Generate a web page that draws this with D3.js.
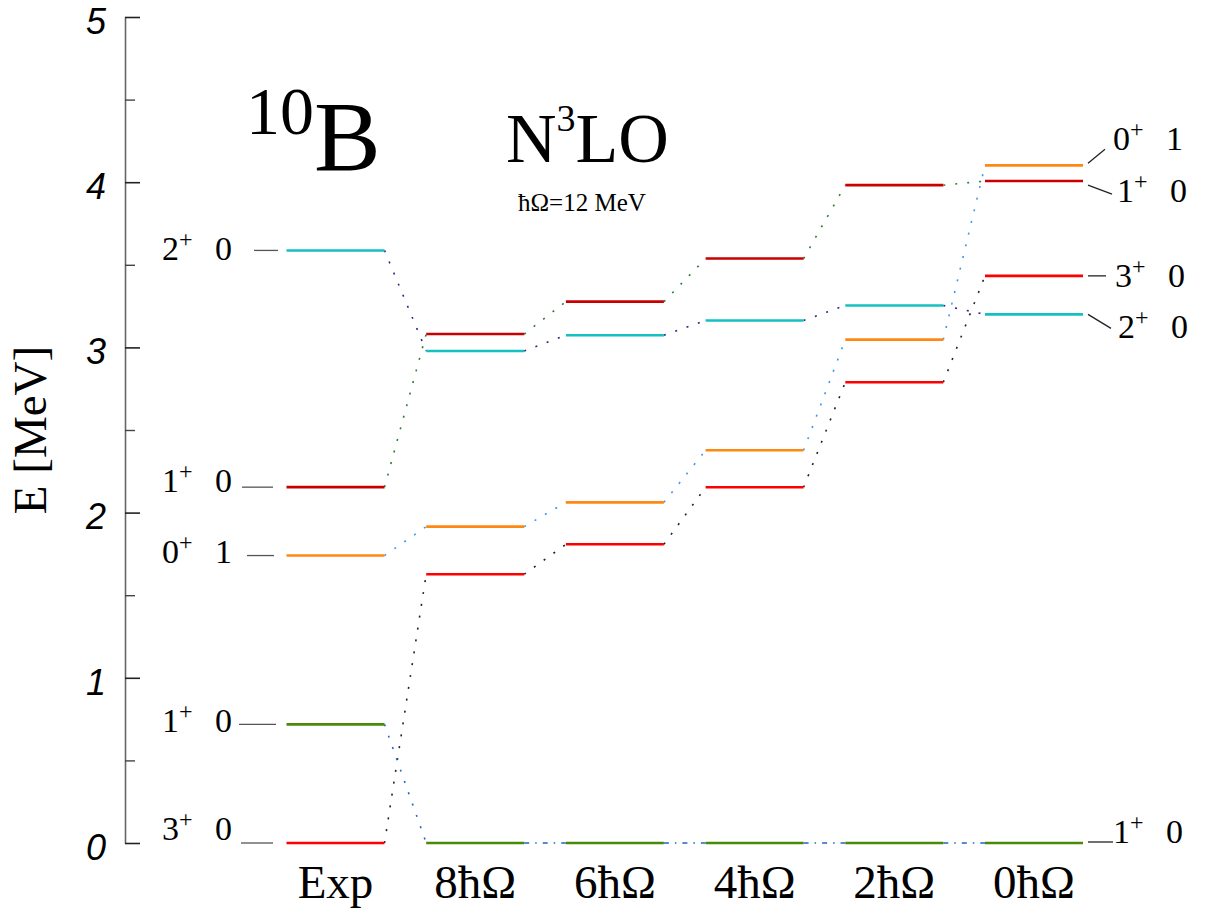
<!DOCTYPE html>
<html>
<head>
<meta charset="utf-8">
<script src="https://cdn.jsdelivr.net/npm/d3@7"></script>
<style>
  html, body { margin: 0; padding: 0; background: #fff; }
  svg { display: block; }
</style>
</head>
<body>
<svg id="chart" width="1211" height="913"></svg>
<script>
// Calculation columns (experiment, then Nmax truncations)
const columns = ["Exp", "8ħΩ", "6ħΩ", "4ħΩ", "2ħΩ", "0ħΩ"];
const yTicks = [0, 1, 2, 3, 4, 5];
const yMinorTicks = [0.5, 1.5, 2.5, 3.5, 4.5];

// Excitation energies [MeV] of each state, one value per column
const state3p0 = [0.000, 1.627, 1.808, 2.153, 2.789, 3.433];   // 3+ 0
const state1p0a = [0.718, 0.000, 0.000, 0.000, 0.000, 0.000];  // 1+ 0 (lowest)
const state0p1 = [1.740, 1.915, 2.062, 2.377, 3.047, 4.102];   // 0+ 1
const state1p0b = [2.154, 3.081, 3.277, 3.538, 3.982, 4.007];  // 1+ 0 (second)
const state2p0 = [3.587, 2.978, 3.074, 3.163, 3.254, 3.200];   // 2+ 0

// Spin-parity and isospin of each state
const stateJ = ["3", "1", "0", "1", "2"];
const stateT = ["0", "0", "1", "0", "0"];

const states = [
  { id: "s3p0",  values: state3p0,  J: stateJ[0], T: stateT[0], color: "#ff0000", link: "#222222" },
  { id: "s1p0a", values: state1p0a, J: stateJ[1], T: stateT[1], color: "#4a8a08", link: "#1f66c4" },
  { id: "s0p1",  values: state0p1,  J: stateJ[2], T: stateT[2], color: "#ff8810", link: "#3a98f0" },
  { id: "s1p0b", values: state1p0b, J: stateJ[3], T: stateT[3], color: "#c80000", link: "#2f7d2f" },
  { id: "s2p0",  values: state2p0,  J: stateJ[4], T: stateT[4], color: "#14c0c0", link: "#2a2a80" }
];

const svg = d3.select("#chart");
const serif = "'Liberation Serif', 'Times New Roman', serif";

const y = d3.scaleLinear().domain([0, 5]).range([843, 17]);
const x = d3.scalePoint().domain(columns).range([335.5, 1034]);
const halfW = 49;
const axisX = 125;

// ---- y axis -----------------------------------------------------------
const axisG = svg.append("g").attr("transform", `translate(${axisX},0)`);
axisG.call(d3.axisLeft(y).tickValues(yTicks).tickSize(-15).tickSizeOuter(0).tickPadding(19)
  .tickFormat(d3.format("d")));
axisG.select(".domain").attr("stroke", "#666").attr("stroke-width", 1.6);
axisG.selectAll(".tick line").attr("stroke", "#222").attr("stroke-width", 1.6);
axisG.selectAll(".tick text")
  .attr("font-family", "'Liberation Sans', Arial, sans-serif")
  .attr("font-style", "italic")
  .attr("font-size", 36)
  .attr("dy", "0.45em")
  .attr("fill", "#000");

const minorG = svg.append("g").attr("transform", `translate(${axisX},0)`);
minorG.call(d3.axisLeft(y).tickValues(yMinorTicks).tickSize(-10).tickSizeOuter(0).tickFormat(""));
minorG.select(".domain").remove();
minorG.selectAll(".tick line").attr("stroke", "#444").attr("stroke-width", 1.4);

svg.append("text")
  .attr("transform", "translate(46,430) rotate(-90)")
  .attr("text-anchor", "middle")
  .attr("font-family", serif)
  .attr("font-size", 47)
  .text("E [MeV]");

// ---- connecting lines between columns ---------------------------------
const links = svg.append("g");
states.forEach(s => {
  for (let i = 0; i < columns.length - 1; i++) {
    const flat = s.values[i] === s.values[i + 1] && s.values[i] === 0;
    links.append("line")
      .attr("x1", x(columns[i]) + halfW)
      .attr("y1", y(s.values[i]))
      .attr("x2", x(columns[i + 1]) - halfW)
      .attr("y2", y(s.values[i + 1]))
      .attr("stroke", s.link)
      .attr("stroke-width", 1.6)
      .attr("stroke-dasharray", flat ? "5,6,1.5,6" : "2,10");
  }
});

// ---- level bars -------------------------------------------------------
const levels = svg.append("g");
states.forEach(s => {
  levels.selectAll(null)
    .data(s.values.map((v, i) => ({ v, col: columns[i] })))
    .join("line")
    .attr("x1", d => x(d.col) - halfW)
    .attr("x2", d => x(d.col) + halfW)
    .attr("y1", d => y(d.v))
    .attr("y2", d => y(d.v))
    .attr("stroke", s.color)
    .attr("stroke-width", 2.6);
});

// ---- state labels -----------------------------------------------------
function stateLabel(g, s, tx, baseline, tGap) {
  const t = g.append("text")
    .attr("x", tx).attr("y", baseline)
    .attr("font-family", serif)
    .attr("font-size", 34);
  t.append("tspan").text(s.J);
  t.append("tspan").attr("font-size", 24).attr("dy", -13).text("+");
  t.append("tspan").attr("x", tx + tGap).attr("dy", 13).text(s.T);
}

const labelG = svg.append("g");
const leaderColor = "#555";

// left side (experimental levels)
const leftLayout = {
  s2p0:  { dy: 10, lx1: 254, lx2: 278 },
  s1p0b: { dy: 5,  lx1: 242, lx2: 273 },
  s0p1:  { dy: 7,  lx1: 247, lx2: 274 },
  s1p0a: { dy: 8,  lx1: 239, lx2: 276 },
  s3p0:  { dy: -3, lx1: 241, lx2: 273 }
};
states.forEach(s => {
  const L = leftLayout[s.id];
  const yy = y(s.values[0]);
  labelG.append("line")
    .attr("x1", L.lx1).attr("x2", L.lx2).attr("y1", yy).attr("y2", yy)
    .attr("stroke", leaderColor).attr("stroke-width", 1.3);
  stateLabel(labelG, s, 162, yy + L.dy, 53);
});

// right side (0ħΩ levels)
const last = columns.length - 1;
const rightLayout = {
  s0p1:  { ly1: -2, lx2: 1105, ly2: -16, tx: 1113, dy: -15 },
  s1p0b: { ly1: 4,  lx2: 1112, ly2: 13,  tx: 1117, dy: 21 },
  s3p0:  { ly1: 0,  lx2: 1106, ly2: 0,   tx: 1115, dy: 11 },
  s2p0:  { ly1: 0,  lx2: 1111, ly2: 14,  tx: 1118, dy: 24 },
  s1p0a: { ly1: -1, lx2: 1113, ly2: -1,  tx: 1113, dy: 0 }
};
states.forEach(s => {
  const R = rightLayout[s.id];
  const yy = y(s.values[last]);
  labelG.append("line")
    .attr("x1", x(columns[last]) + halfW + 5).attr("y1", yy + R.ly1)
    .attr("x2", R.lx2).attr("y2", yy + R.ly2)
    .attr("stroke", "#222").attr("stroke-width", 1.3);
  stateLabel(labelG, s, R.tx, yy + R.dy, 53);
});

// ---- column labels ----------------------------------------------------
svg.append("g").selectAll("text")
  .data(columns)
  .join("text")
  .attr("x", d => x(d))
  .attr("y", 898)
  .attr("text-anchor", "middle")
  .attr("font-family", serif)
  .attr("font-size", 47)
  .text(d => d);

// ---- titles -----------------------------------------------------------
const nuc = svg.append("text")
  .attr("x", 246).attr("y", 170)
  .attr("font-family", serif)
  .attr("font-size", 100);
nuc.append("tspan").attr("font-size", 68).attr("dy", -36).text("10");
nuc.append("tspan").attr("dy", 36).text("B");

const order = svg.append("text")
  .attr("x", 506).attr("y", 162)
  .attr("font-family", serif)
  .attr("font-size", 70);
order.append("tspan").text("N");
order.append("tspan").attr("font-size", 38).attr("dy", -31).text("3");
order.append("tspan").attr("dy", 31).text("LO");

svg.append("text")
  .attr("x", 518).attr("y", 211)
  .attr("font-family", serif)
  .attr("font-size", 25)
  .text("ħΩ=12 MeV");
</script>
</body>
</html>
